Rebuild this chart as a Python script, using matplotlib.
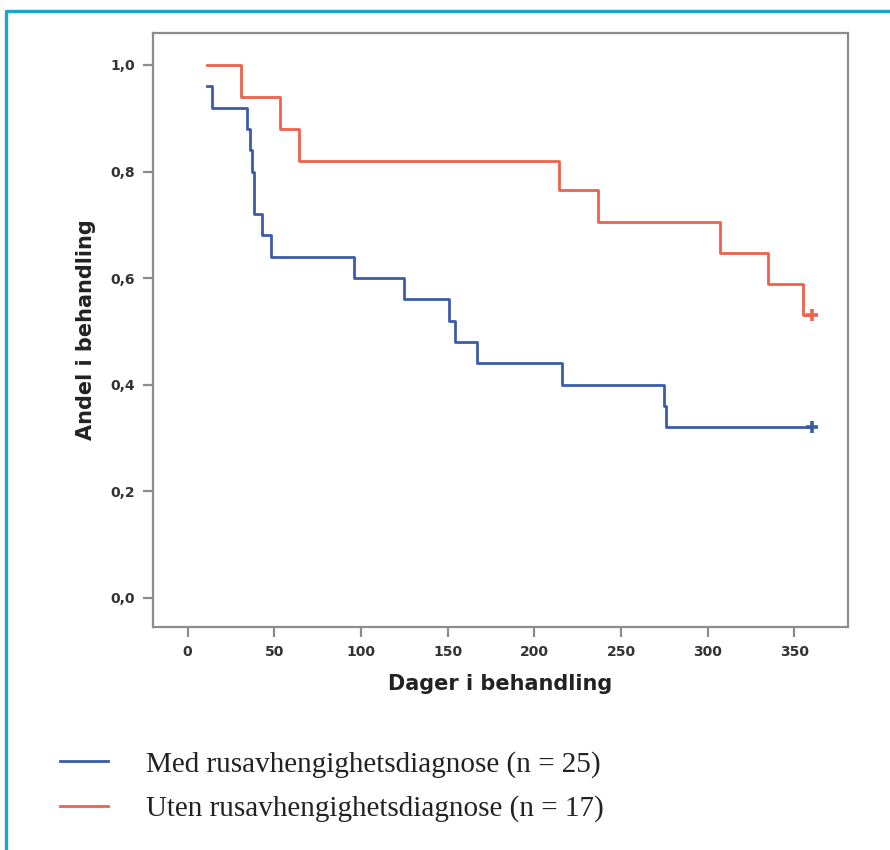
import matplotlib
matplotlib.use("Agg")
import matplotlib.pyplot as plt
from matplotlib.lines import Line2D

# Kaplan-Meier style retention curves (days, proportion still in treatment)
blue_days = [11, 14, 34, 36, 37, 38, 43, 48, 96, 125, 151, 154, 167, 216, 275, 276, 360]
blue_surv = [0.96, 0.92, 0.88, 0.84, 0.80, 0.72, 0.68, 0.64, 0.60, 0.56, 0.52, 0.48,
             0.44, 0.40, 0.36, 0.32, 0.32]
red_days = [11, 31, 53, 64, 214, 237, 307, 335, 355, 360]
red_surv = [1.0, 0.94, 0.88, 0.82, 0.765, 0.705, 0.647, 0.588, 0.53, 0.53]

blue_label = "Med rusavhengighetsdiagnose (n = 25)"
red_label = "Uten rusavhengighetsdiagnose (n = 17)"

x_ticks = [0, 50, 100, 150, 200, 250, 300, 350]
y_ticks = [0.0, 0.2, 0.4, 0.6, 0.8, 1.0]
y_tick_labels = ["0,0", "0,2", "0,4", "0,6", "0,8", "1,0"]

BLUE = "#3b5ba9"
RED = "#f0604c"
GREY = "#8c8c8c"
CYAN = "#1aa5c9"

W, H = 890, 850
fig = plt.figure(figsize=(W / 100, H / 100), dpi=100)
ax = fig.add_axes([153 / W, 1 - 627 / H, (848 - 153) / W, (627 - 33) / H])

blue_line, = ax.step(blue_days, blue_surv, where="post", color=BLUE, lw=2.0)
red_line, = ax.step(red_days, red_surv, where="post", color=RED, lw=2.0)
ax.plot(blue_days[-1], blue_surv[-1], marker="+", ms=9, mew=2.6, color=BLUE)
ax.plot(red_days[-1], red_surv[-1], marker="+", ms=9, mew=2.6, color=RED)

ax.set_xlim(-20, 381)
ax.set_ylim(-0.055, 1.06)
ax.set_xticks(x_ticks)
ax.set_yticks(y_ticks, y_tick_labels)
for spine in ax.spines.values():
    spine.set_color(GREY)
    spine.set_linewidth(1.6)
ax.tick_params(direction="out", length=7, width=1.6, color=GREY,
               labelsize=10, labelcolor="#333333", pad=6)
for lab in ax.get_xticklabels() + ax.get_yticklabels():
    lab.set_fontweight("bold")

ax.set_xlabel("Dager i behandling", fontsize=15, fontweight="bold",
              color="#222222", labelpad=11)
ax.set_ylabel("Andel i behandling", fontsize=15, fontweight="bold",
              color="#222222", labelpad=10)

fig.legend(handles=[blue_line, red_line], labels=[blue_label, red_label],
           loc="upper left", bbox_to_anchor=(60 / W, 1 - 751 / H),
           frameon=False, borderpad=0, borderaxespad=0,
           handlelength=1.65, handletextpad=1.3, labelspacing=0.6,
           prop={"family": "Liberation Serif", "size": 21}, labelcolor="#222222")

# cyan frame around the figure panel
fig.add_artist(Line2D([5.5 / W, 5.5 / W, 1.0], [0.0, 1 - 11 / H, 1 - 11 / H],
                      transform=fig.transFigure, color=CYAN, lw=2.4))

fig.savefig("out.png", dpi=100)
